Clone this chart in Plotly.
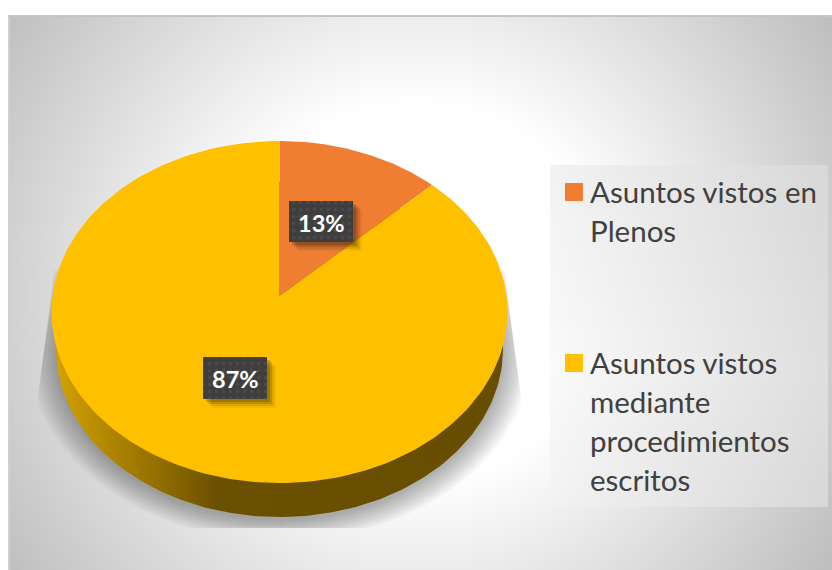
import numpy as np
import plotly.graph_objects as go

# ---- data ----
categories = ["Asuntos vistos en Plenos", "Asuntos vistos mediante procedimientos escritos"]
values = [12.7, 87.3]
value_labels = ["13%", "87%"]
legend_lines = [["Asuntos vistos en", "Plenos"],
                ["Asuntos vistos", "mediante", "procedimientos", "escritos"]]
colors = ["#EF7D32", "#FFC000"]

# ---- style / geometry (axes are in page pixels) ----
CX, CY0, RX, K = 279.5, 296.0, 227.0, -0.0936
A = 141.8
W, H = 832, 570
LEFT, TOP = 10, 17


def project(theta):
    """Tilted-disc projection: theta measured clockwise from 12 o'clock."""
    u, v = np.sin(theta), -np.cos(theta)
    d = 1 + K * v
    return CX + RX * u / d, (A * v + CY0) / d


def bottom_rim(theta, s=0.98, dy=37.4, grow=0.0):
    x, y = project(theta)
    yc = 312.0
    return CX + (x - CX) * s * (1 + grow), yc + (y - yc) * s * (1 + grow) + dy


fig = go.Figure()


def poly(x, y, **kw):
    fig.add_trace(go.Scatter(x=list(x), y=list(y), mode="lines", fill="toself",
                             line=dict(width=0), hoverinfo="skip", showlegend=False, **kw))


# chart-area background: circular gradient, clipped by the axes
bx, by, br = 416, 292, 493
poly([bx - br, bx + br, bx + br, bx - br, bx - br],
     [by - br, by - br, by + br, by + br, by - br],
     fillcolor="#FFFFFF",
     fillgradient=dict(type="radial",
                       colorscale=[[0, "#FFFFFF"], [0.38, "#FFFFFF"], [1, "#BFBFBF"]]))

# soft shadow under the disc, cut off by its rectangle
th = np.linspace(0, 2 * np.pi, 361)
n_layers = 12
for i in range(n_layers):
    g = 0.12 * (1 - i / (n_layers - 1)) + 0.004
    sx, sy = bottom_rim(th, grow=g)
    sy = sy + 3
    lim_l = np.interp(sy, [285, 395], [53, 38])
    lim_r = np.interp(sy, [285, 395], [506, 521])
    sx = np.clip(sx, lim_l, lim_r)
    sy = np.clip(sy, 270, 528)
    poly(sx, sy, fillcolor="rgba(0,0,0,0.026)")

# legend panel
lx0, lx1, ly0, ly1 = 550, 828, 165, 507
rect_x = [lx0, lx1, lx1, lx0, lx0]
rect_y = [ly0, ly0, ly1, ly1, ly0]
poly(rect_x, rect_y, fillcolor="#F5F5F5",
     fillgradient=dict(type="horizontal",
                       colorscale=[[0, "#FAFAFA"], [1, "#DEDEDE"]]))
poly(rect_x, rect_y, fillcolor="rgba(0,0,0,0)",
     fillgradient=dict(type="vertical",
                       colorscale=[[0, "rgba(0,0,0,0.03)"], [0.4, "rgba(0,0,0,0)"],
                                   [1, "rgba(0,0,0,0.03)"]]))

# side wall of the disc
rx_, ry_ = bottom_rim(th)
poly(rx_, ry_, fillcolor="#6B5000",
     fillgradient=dict(type="horizontal",
                       colorscale=[[0, "#D4A100"], [0.12, "#B08600"], [0.25, "#8C6A00"],
                                   [0.36, "#6B5000"], [1, "#674D00"]]))

# top face: slices from the values
fractions = np.array(values) / sum(values)
edges = np.concatenate([[0], np.cumsum(fractions)]) * 2 * np.pi
for i, cat in enumerate(categories):
    t = np.linspace(edges[i], edges[i + 1], 200)
    x, y = project(t)
    poly(np.r_[CX, x, CX], np.r_[CY0, y, CY0], fillcolor=colors[i], name=cat)

# data labels: dark patterned boxes with soft shadow
label_boxes = [(289, 353, 201, 242), (203, 267, 357, 399)]
for (x0, x1, y0, y1) in label_boxes:
    for off, a in [(9, 0.05), (7, 0.09), (5, 0.13), (3, 0.17)]:
        poly([x0 + off, x1 + off, x1 + off, x0 + off, x0 + off],
             [y0 + off, y0 + off, y1 + off, y1 + off, y0 + off],
             fillcolor=f"rgba(0,0,0,{a})")
    poly([x0, x1, x1, x0, x0], [y0, y0, y1, y1, y0], fillcolor="#404040",
         fillpattern=dict(shape=".", bgcolor="#3E3E3E", fgcolor="#555555", size=7, solidity=0.2))

# legend keys
key_y = [192, 363]
for i, cat in enumerate(categories):
    fig.add_trace(go.Scatter(x=[574], y=[key_y[i]], mode="markers", hoverinfo="skip",
                             showlegend=False, name=cat,
                             marker=dict(symbol="square", size=18, color=colors[i], line=dict(width=0))))

# texts
annotations = []
for (x0, x1, y0, y1), txt in zip(label_boxes, value_labels):
    annotations.append(dict(x=(x0 + x1) / 2, y=(y0 + y1) / 2 + 1, text=f"<b>{txt}</b>", showarrow=False,
                            xanchor="center", yanchor="middle",
                            font=dict(family="Lato", size=23.5, color="#FFFFFF")))
line_y = [[191, 230], [362, 401, 440, 479]]
for lines, ys in zip(legend_lines, line_y):
    for s, y in zip(lines, ys):
        annotations.append(dict(x=588, y=y, text=s, showarrow=False, xanchor="left", yanchor="middle",
                                font=dict(family="Lato", size=29.5, color="#404040")))

fig.update_layout(
    width=W, height=H, autosize=False,
    margin=dict(l=LEFT, r=0, t=TOP, b=0, pad=0),
    paper_bgcolor="#FFFFFF", plot_bgcolor="#FFFFFF",
    showlegend=False,
    annotations=annotations,
    xaxis=dict(range=[LEFT, W], visible=True, showgrid=False, zeroline=False, showticklabels=False,
               ticks="", side="top", showline=True, linecolor="#C4C4C4", linewidth=2, fixedrange=True),
    yaxis=dict(range=[H, TOP], visible=True, showgrid=False, zeroline=False, showticklabels=False,
               ticks="", showline=True, linecolor="#D0D0D0", linewidth=2, fixedrange=True),
)
fig.write_html("out.html", config=dict(displayModeBar=False),
               post_script="document.body.style.margin='0';")
